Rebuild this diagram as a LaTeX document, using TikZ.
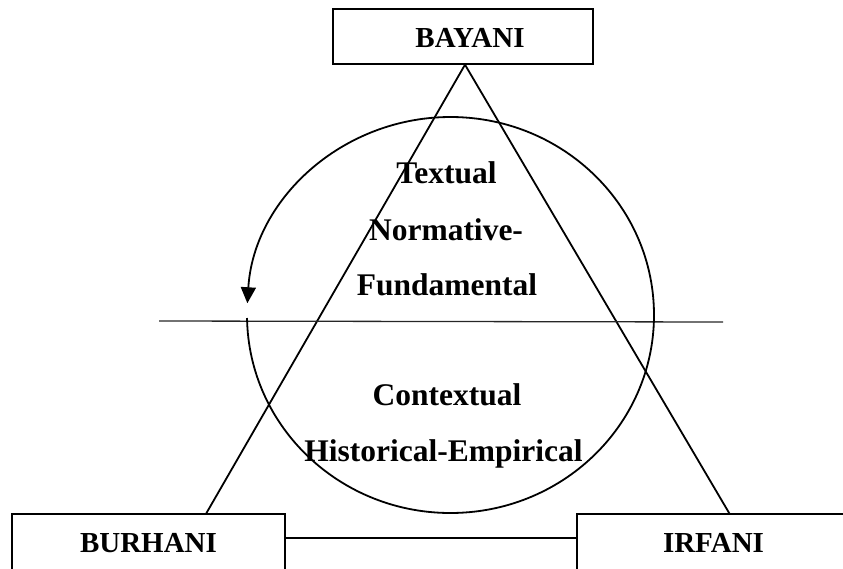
\documentclass[tikz,border=0pt]{standalone}
\usepackage{fontspec}
\setmainfont{Liberation Serif}
\usetikzlibrary{arrows.meta,calc}
\begin{document}
\begin{tikzpicture}[x=1pt,y=-1pt,
  box/.style={draw, line width=1.4pt, inner sep=0pt},
  lbl/.style={font=\fontsize{29}{29}\selectfont\bfseries, anchor=base, inner sep=0pt},
  txt/.style={font=\fontsize{31.5}{31.5}\selectfont\bfseries, anchor=base, inner sep=0pt},
  edge/.style={line width=1.8pt},
  thin edge/.style={line width=1.3pt, black!85}]
\useasboundingbox (0,0) rectangle (843,568);
\clip (0,0) rectangle (843,568);
% boxes
\node[box, minimum width=260pt, minimum height=55pt] (bayani) at (463,36.5) {};
\node[box, minimum width=273pt, minimum height=61pt] (burhani) at (148.5,544.5) {};
\node[box, minimum width=273pt, minimum height=61pt] (irfani) at (713.5,544.5) {};
\node[lbl] (bayanit) at (470,47) {BAYANI};
\node[lbl] (burhanit) at (148.5,552) {BURHANI};
\node[lbl] (irfanit) at (713.5,552) {IRFANI};
% triangle
\coordinate (apex) at ([xshift=2pt]bayani.south);
\draw[edge] (apex) -- ([xshift=195pt]burhani.north west);
\draw[edge] (apex) -- ([xshift=153pt]irfani.north west);
\draw[edge] ([yshift=6.5pt]burhani.east) -- ([yshift=6.5pt]irfani.west);
% horizontal divider
\coordinate (hl) at (159,321);
\coordinate (hr) at (723,322);
\draw[thin edge] (hl) -- (hr);
% cycle ellipse with arrow
\coordinate (ctr) at (450.5,315);
\draw[edge, -{Triangle[length=16pt,width=15pt]}] ($(ctr)+(179.13:203.5 and 198)$)
  arc[start angle=179.13, end angle=-176.6, x radius=203.5, y radius=198];
% texts
\node[txt] (t1) at (446.5,183) {Textual};
\node[txt] (t2) at (446,240) {Normative-};
\node[txt] (t3) at (447,295) {Fundamental};
\node[txt] (t4) at (447,405) {Contextual};
\node[txt] (t5) at (443.5,461) {Historical-Empirical};
\end{tikzpicture}
\end{document}
